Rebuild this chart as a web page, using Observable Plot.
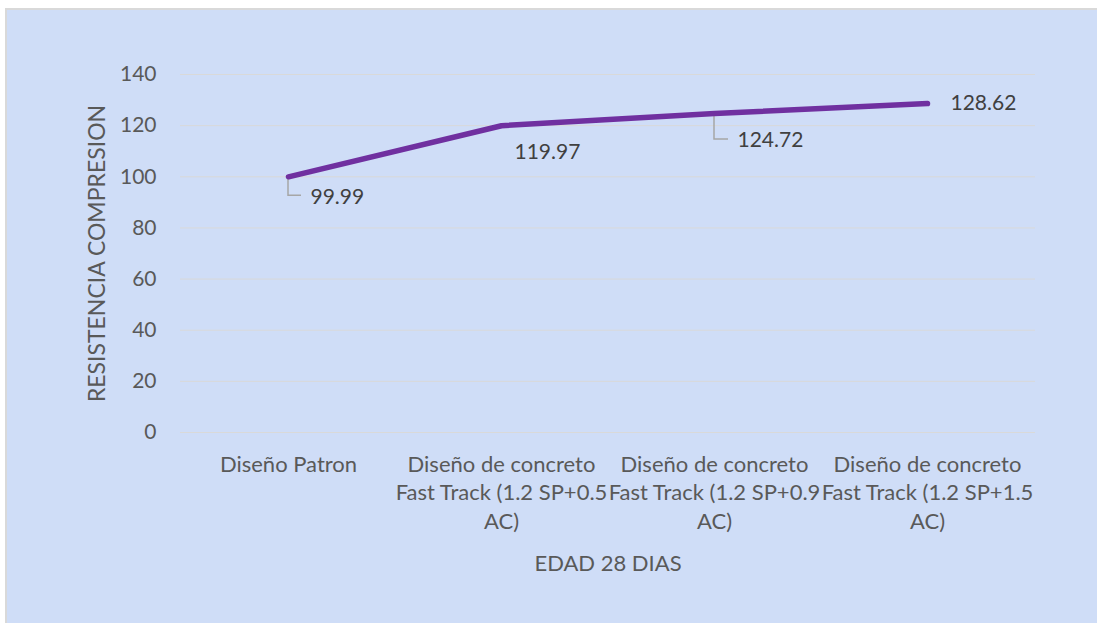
<!DOCTYPE html>
<html><head><meta charset="utf-8">
<script src="https://cdn.jsdelivr.net/npm/d3@7"></script>
<script src="https://cdn.jsdelivr.net/npm/@observablehq/plot@0.6"></script>
<style>
body{margin:0;background:#fff;width:1097px;height:623px;overflow:hidden;position:relative;}
#frame{position:absolute;left:5px;top:8px;width:1100px;height:620px;background:#CFDDF7;border-left:2px solid #D9D9D9;border-top:2px solid #D9D9D9;box-sizing:border-box;}
#chart{position:absolute;left:0;top:0;}
</style></head><body>
<div id="frame"></div><div id="chart"></div>
<script>
const categories = [
  "Diseño Patron",
  "Diseño de concreto\nFast Track (1.2 SP+0.5\nAC)",
  "Diseño de concreto\nFast Track (1.2 SP+0.9\nAC)",
  "Diseño de concreto\nFast Track (1.2 SP+1.5\nAC)"
];
const resistencia = [99.99, 119.97, 124.72, 128.62];
const yTicks = [0, 20, 40, 60, 80, 100, 120, 140];
const xTitle = "EDAD 28 DIAS";
const yTitle = "RESISTENCIA COMPRESION";

const data = categories.map((c, i) => ({cat: c, value: resistencia[i], label: resistencia[i].toFixed(2)}));

const font = "Lato, 'Open Sans', sans-serif";

function label(i, dx, dy) {
  return Plot.text([data[i]], {x: "cat", y: "value", text: "label", dx, dy, textAnchor: "start",
    fontSize: 21, fill: "#404040"});
}
function leader(i, down, right) {
  return (index, scales) => {
    const x = scales.x(categories[i]), y = scales.y(resistencia[i]);
    return d3.create("svg:path")
      .attr("d", `M${x},${y + 2}V${y + down}H${x + right}`)
      .attr("fill", "none").attr("stroke", "#A6A6A6").attr("stroke-width", 1.5)
      .node();
  };
}

const chart = Plot.plot({
  width: 1097, height: 623,
  marginLeft: 180, marginRight: 62, marginTop: 74, marginBottom: 191,
  style: {background: "transparent", fontFamily: font, color: "#595959", overflow: "visible"},
  x: {type: "point", domain: categories, padding: 0.5},
  y: {domain: [0, 140]},
  marks: [
    Plot.ruleY(yTicks, {stroke: "#D9D9D9", strokeWidth: 1}),
    Plot.axisY({ticks: yTicks, tickSize: 0, tickPadding: 24, fontSize: 21, fill: "#595959", label: null}),
    Plot.axisX({tickSize: 0, tickPadding: 19, fontSize: 22, lineHeight: 1.3, fill: "#595959", label: null}),
    Plot.text([yTitle], {frameAnchor: "left", dx: -83, rotate: -90, textAnchor: "middle", lineAnchor: "middle", fontSize: 23, fill: "#595959"}),
    Plot.text([xTitle], {frameAnchor: "bottom", dy: 131, textAnchor: "middle", lineAnchor: "middle", fontSize: 22, fill: "#595959"}),
    leader(0, 19, 13),
    leader(2, 26, 14),
    Plot.line(data, {x: "cat", y: "value", stroke: "#7030A0", strokeWidth: 5.5, strokeLinecap: "round", strokeLinejoin: "round"}),
    label(0, 22, 20),
    label(1, 13, 27),
    label(2, 23, 27),
    label(3, 23, 0)
  ]
});
document.getElementById("chart").appendChild(chart);
</script>
</body></html>
